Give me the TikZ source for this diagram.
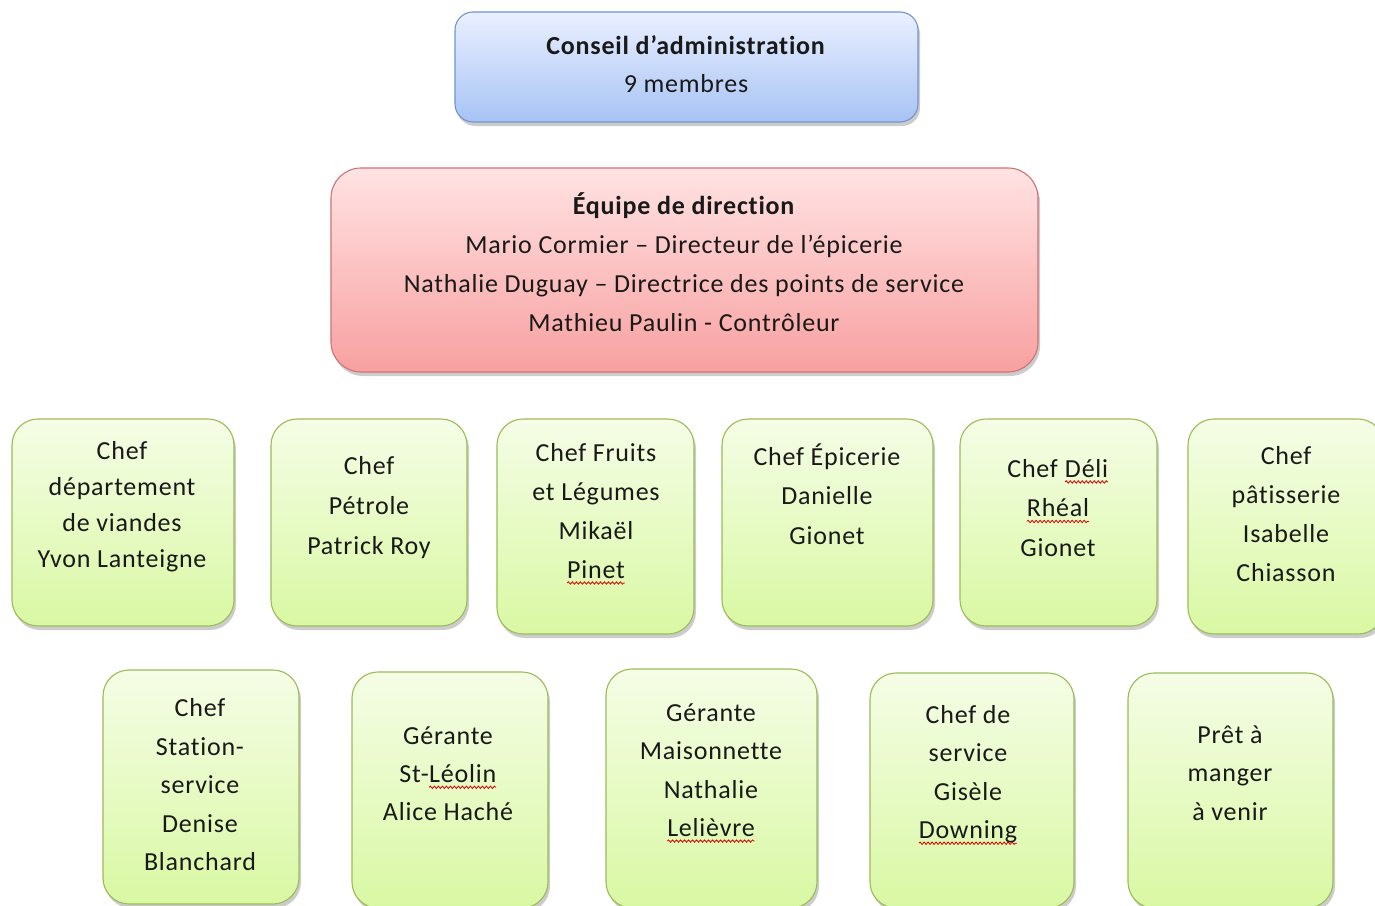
\documentclass[tikz,border=0pt]{standalone}
\usepackage{fontspec}
\setmainfont[LetterSpace=3,Ligatures={NoCommon}]{Carlito}
\usetikzlibrary{shadows,decorations.pathmorphing}
\newcommand\sqw[1]{\tikz[x=1pt,y=1pt,baseline=(sqwnode.base)]{\node[inner sep=0pt,outer sep=0pt,align=left] (sqwnode) {#1};
  \draw[red!85!black, line width=0.8pt, decorate, decoration={snake, amplitude=1.2pt, segment length=4pt}] ([yshift=-4.5pt]sqwnode.base west) -- ([yshift=-4.5pt]sqwnode.base east);}}
\definecolor{bluetop}{HTML}{EAF0FF}
\definecolor{bluebot}{HTML}{A7C3F4}
\definecolor{blueline}{HTML}{6F95D0}
\definecolor{redtop}{HTML}{FFE3E3}
\definecolor{redbot}{HTML}{F8A0A0}
\definecolor{redline}{HTML}{CF7272}
\definecolor{greentop}{HTML}{F5FDE6}
\definecolor{greenbot}{HTML}{D9F8A3}
\definecolor{greenline}{HTML}{9BBB59}
\tikzset{
  boxbase/.style={draw, line width=1.1pt, drop shadow={opacity=0.4, shadow xshift=2pt, shadow yshift=-4pt}, inner sep=0pt},
  bluebox/.style={boxbase, draw=blueline, top color=bluetop, bottom color=bluebot, rounded corners=18pt},
  redbox/.style={boxbase, draw=redline, top color=redtop, bottom color=redbot, rounded corners=30pt},
  greenbox/.style={boxbase, draw=greenline, top color=greentop, bottom color=greenbot, rounded corners=26pt},
  txt/.style={align=center, inner sep=0pt, text=black!90, font=\fontsize{26}{#1}\selectfont},
  txt/.default=39
}
\newcommand\gbox[5]{% name, x1, y1, x2, y2
  \node[greenbox, minimum width={#4-#2}, minimum height={#5-#3}] (#1) at ({(#2+#4)/2},{(#3+#5)/2}) {};}
\begin{document}
\begin{tikzpicture}[x=1pt,y=-1pt]
\useasboundingbox (0,0) rectangle (1375,905);
\clip (0,0) rectangle (1375,905);
% top boxes
\node[bluebox, minimum width=463, minimum height=110] (ca) at (686.5,67) {};
\node[txt=38] (cat) at (686,64) {\textbf{Conseil d’administration}\\9 membres};
\node[redbox, minimum width=707, minimum height=204] (ed) at (684.5,270) {};
\node[txt=39] (edt) at (684,262) {\textbf{Équipe de direction}\\Mario Cormier – Directeur de l’épicerie\\Nathalie Duguay – Directrice des points de service\\Mathieu Paulin - Contrôleur};
% row 1
\gbox{a1}{12}{419}{234}{626}
\node[txt=36] (a1t) at (122,507) {Chef\\département\\de viandes\\Yvon Lanteigne};
\gbox{a2}{271}{419}{467}{626}
\node[txt=40] (a2t) at (369,508) {Chef\\Pétrole\\Patrick Roy};
\gbox{a3}{497}{419}{694}{634}
\node[txt=39] (a3t) at (596,514) {Chef Fruits\\et Légumes\\Mikaël\\\sqw{Pinet}};
\gbox{a4}{722}{419}{933}{626}
\node[txt=39.5] (a4t) at (827,494) {Chef Épicerie\\Danielle\\Gionet};
\gbox{a5}{960}{419}{1157}{626}
\node[txt=39.5] (a5t) at (1058,508) {Chef \sqw{Déli}\\\sqw{Rhéal}\\Gionet};
\gbox{a6}{1188}{419}{1384}{634}
\node[txt=39] (a6t) at (1286,514) {Chef\\pâtisserie\\Isabelle\\Chiasson};
% row 2
\gbox{b1}{103}{670}{299}{904}
\node[txt=38.5] (b1t) at (200,785) {Chef\\Station-\\service\\Denise\\Blanchard};
\gbox{b2}{352}{672}{548}{908}
\node[txt=38] (b2t) at (448,774) {Gérante\\St-\sqw{Léolin}\\Alice Haché};
\gbox{b3}{606}{669}{817}{908}
\node[txt=38.5] (b3t) at (711,773) {Gérante\\Maisonnette\\Nathalie\\\sqw{Lelièvre}};
\gbox{b4}{870}{673}{1074}{908}
\node[txt=38.5] (b4t) at (968,775) {Chef de\\service\\Gisèle\\\sqw{Downing}};
\gbox{b5}{1128}{673}{1333}{908}
\node[txt=38.5] (b5t) at (1230,773) {Prêt à\\manger\\à venir};
\end{tikzpicture}
\end{document}
